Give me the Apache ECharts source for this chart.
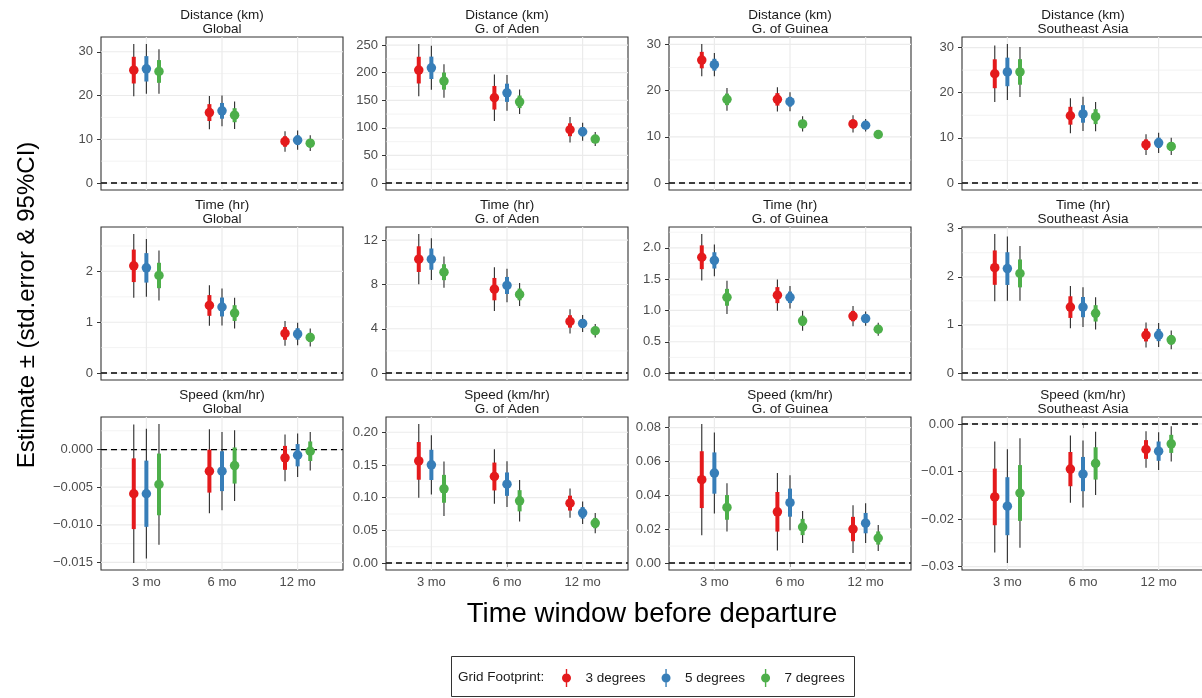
<!DOCTYPE html>
<html>
<head>
<meta charset="utf-8">
<script src="https://cdn.jsdelivr.net/npm/echarts@6/dist/echarts.min.js"></script>
<style>
html, body { margin: 0; padding: 0; background: #fff; }
#chart { width: 1202px; height: 698px; }
</style>
</head>
<body>
<div id="chart"></div>
<script>
var windows = ['3 mo', '6 mo', '12 mo'];
var footprints = ['3 degrees', '5 degrees', '7 degrees'];
var regions = ['Global', 'G. of Aden', 'G. of Guinea', 'Southeast Asia'];
var metrics = ['Distance (km)', 'Time (hr)', 'Speed (km/hr)'];

// estimate and std.error, one row per footprint (3, 5, 7 deg), one column per window
var distGlobalEst = [[25.8, 16.1, 9.5], [26.1, 16.5, 9.8], [25.5, 15.5, 9.1]];
var distGlobalSe  = [[3.05, 1.93, 1.2], [2.9, 1.8, 1.12], [2.6, 1.6, 0.92]];
var distAdenEst   = [[204.7, 154.6, 96.6], [208.9, 163.6, 93.0], [184.8, 147.3, 79.7]];
var distAdenSe    = [[24.2, 21.4, 11.7], [20.3, 16.5, 8.3], [15.5, 11.4, 6.5]];
var distGuineaEst = [[26.6, 18.1, 12.8], [25.6, 17.6, 12.5], [18.1, 12.8, 10.5]];
var distGuineaSe  = [[1.78, 1.35, 0.94], [1.28, 1.05, 0.68], [1.25, 0.85, 0.35]];
var distSeaEst    = [[24.2, 14.9, 8.5], [24.6, 15.3, 8.9], [24.6, 14.7, 8.1]];
var distSeaSe     = [[3.2, 1.98, 1.17], [3.16, 1.94, 1.15], [2.83, 1.65, 0.97]];

var timeGlobalEst = [[2.11, 1.33, 0.78], [2.07, 1.30, 0.77], [1.92, 1.18, 0.70]];
var timeGlobalSe  = [[0.32, 0.204, 0.125], [0.29, 0.186, 0.113], [0.25, 0.155, 0.09]];
var timeAdenEst   = [[10.29, 7.58, 4.66], [10.29, 7.91, 4.48], [9.11, 7.10, 3.82]];
var timeAdenSe    = [[1.16, 1.01, 0.56], [0.96, 0.77, 0.39], [0.72, 0.53, 0.315]];
var timeGuineaEst = [[1.85, 1.245, 0.91], [1.80, 1.21, 0.87], [1.21, 0.835, 0.70]];
var timeGuineaSe  = [[0.19, 0.128, 0.083], [0.13, 0.092, 0.058], [0.135, 0.082, 0.053]];
var timeSeaEst    = [[2.19, 1.37, 0.79], [2.17, 1.37, 0.79], [2.07, 1.24, 0.69]];
var timeSeaSe     = [[0.357, 0.225, 0.133], [0.34, 0.21, 0.127], [0.29, 0.17, 0.1]];

var speedGlobalEst = [[-0.00587, -0.00287, -0.0011], [-0.00587, -0.00287, -0.00075], [-0.00463, -0.00212, -0.00022]];
var speedGlobalSe  = [[0.0047, 0.00285, 0.00159], [0.0044, 0.00265, 0.00148], [0.0041, 0.0024, 0.0013]];
var speedAdenEst   = [[0.1562, 0.1323, 0.0916], [0.1501, 0.1206, 0.0768], [0.1135, 0.0952, 0.0611]];
var speedAdenSe    = [[0.0288, 0.0213, 0.0114], [0.0231, 0.0179, 0.0088], [0.0213, 0.0162, 0.0079]];
var speedGuineaEst = [[0.0493, 0.0303, 0.0201], [0.0532, 0.0357, 0.0236], [0.0329, 0.0213, 0.0148]];
var speedGuineaSe  = [[0.0168, 0.0117, 0.0072], [0.0122, 0.0083, 0.006], [0.0073, 0.0048, 0.0039]];
var speedSeaEst    = [[-0.01535, -0.0095, -0.00537], [-0.0173, -0.01054, -0.00572], [-0.01452, -0.0083, -0.00419]];
var speedSeaSe     = [[0.00595, 0.0036, 0.00197], [0.0061, 0.0036, 0.00203], [0.00587, 0.0034, 0.0019]];

// y tick labels per panel
var distGlobalTicks = ['0', '10', '20', '30'];
var distAdenTicks = ['0', '50', '100', '150', '200', '250'];
var distGuineaTicks = ['0', '10', '20', '30'];
var distSeaTicks = ['0', '10', '20', '30'];
var timeGlobalTicks = ['0', '1', '2'];
var timeAdenTicks = ['0', '4', '8', '12'];
var timeGuineaTicks = ['0.0', '0.5', '1.0', '1.5', '2.0'];
var timeSeaTicks = ['0', '1', '2', '3'];
var speedGlobalTicks = ['\u22120.015', '\u22120.010', '\u22120.005', '0.000'];
var speedAdenTicks = ['0.00', '0.05', '0.10', '0.15', '0.20'];
var speedGuineaTicks = ['0.00', '0.02', '0.04', '0.06', '0.08'];
var speedSeaTicks = ['\u22120.03', '\u22120.02', '\u22120.01', '0.00'];

var panelData = [
  [distGlobalEst, distGlobalSe, distGlobalTicks],
  [distAdenEst, distAdenSe, distAdenTicks],
  [distGuineaEst, distGuineaSe, distGuineaTicks],
  [distSeaEst, distSeaSe, distSeaTicks],
  [timeGlobalEst, timeGlobalSe, timeGlobalTicks],
  [timeAdenEst, timeAdenSe, timeAdenTicks],
  [timeGuineaEst, timeGuineaSe, timeGuineaTicks],
  [timeSeaEst, timeSeaSe, timeSeaTicks],
  [speedGlobalEst, speedGlobalSe, speedGlobalTicks],
  [speedAdenEst, speedAdenSe, speedAdenTicks],
  [speedGuineaEst, speedGuineaSe, speedGuineaTicks],
  [speedSeaEst, speedSeaSe, speedSeaTicks]
];

var colors = ['#E41A1C', '#377EB8', '#4DAF4A'];
var dodge = [-1 / 6, 0, 1 / 6];
var font = 'Liberation Sans, Arial, Helvetica, sans-serif';

// panel layout
var colLeft = [101, 386, 669, 962];
var rowTop = [37, 227, 417];
var panelW = 242, panelH = 153;
var xMin = 0.4, xMax = 3.6;

function parseTick(s) { return parseFloat(s.replace('\u2212', '-')); }

var chart = echarts.init(document.getElementById('chart'));

var grids = [], xAxes = [], yAxes = [], series = [], graphics = [];

panelData.forEach(function (pd, i) {
  var est = pd[0], se = pd[1], tickLabels = pd[2];
  var row = Math.floor(i / 4), col = i % 4;
  var tickVals = tickLabels.map(parseTick);

  // y range like ggplot: data + zero line, expanded 5%
  var lo = 0, hi = 0;
  est.forEach(function (r, g) {
    r.forEach(function (e, k) {
      lo = Math.min(lo, e - 1.96 * se[g][k]);
      hi = Math.max(hi, e + 1.96 * se[g][k]);
    });
  });
  var pad = (hi - lo) * 0.05;
  var yMin = lo - pad, yMax = hi + pad;

  // minor breaks halfway between majors
  var step = tickVals[1] - tickVals[0];
  var minors = [];
  for (var t = 0; t <= tickVals.length; t++) {
    var m = tickVals[0] - step / 2 + t * step;
    if (m > yMin && m < yMax) minors.push(m);
  }

  grids.push({
    left: colLeft[col], top: rowTop[row], width: panelW, height: panelH,
    show: true, borderColor: '#333333', borderWidth: 1.1,
    backgroundColor: 'rgba(0,0,0,0)', containLabel: false, outerBoundsMode: 'none'
  });

  xAxes.push({
    type: 'value', gridIndex: i, min: xMin, max: xMax,
    axisLine: { show: false },
    splitLine: { show: false },
    axisTick: { show: row === 2, customValues: [1, 2, 3], length: 4, lineStyle: { color: '#333333', width: 1 } },
    axisLabel: {
      show: row === 2, customValues: [1, 2, 3], margin: 6,
      color: '#4d4d4d', fontSize: 13, fontFamily: font,
      formatter: function (v) { return windows[Math.round(v) - 1]; }
    }
  });

  yAxes.push({
    type: 'value', gridIndex: i, min: yMin, max: yMax,
    axisLine: { show: false },
    splitLine: { show: false },
    axisTick: { show: true, customValues: tickVals, length: 4, lineStyle: { color: '#333333', width: 1 } },
    axisLabel: {
      customValues: tickVals, margin: 8,
      color: '#4d4d4d', fontSize: 13, fontFamily: font,
      formatter: function (v) {
        for (var j = 0; j < tickVals.length; j++) {
          if (Math.abs(tickVals[j] - v) < step * 1e-6) return tickLabels[j];
        }
        return '';
      }
    }
  });

  // background grid + dashed zero line
  var gl = [];
  minors.forEach(function (m) { gl.push([0, m]); });
  tickVals.forEach(function (v) { gl.push([1, v]); });
  [1, 2, 3].forEach(function (x) { gl.push([2, x]); });
  gl.push([3, 0]);
  series.push({
    type: 'custom', xAxisIndex: i, yAxisIndex: i, silent: true, z: 1, clip: true,
    data: gl,
    renderItem: function (params, api) {
      var kind = api.value(0), v = api.value(1), p1, p2;
      if (kind === 2) {
        p1 = api.coord([v, yMin]); p2 = api.coord([v, yMax]);
      } else {
        p1 = api.coord([xMin, v]); p2 = api.coord([xMax, v]);
      }
      var style = { stroke: '#ebebeb', lineWidth: kind === 0 ? 0.6 : 1.2 };
      if (kind === 3) style = { stroke: '#000000', lineWidth: 1.4, lineDash: [6, 4] };
      return { type: 'line', shape: { x1: p1[0], y1: p1[1], x2: p2[0], y2: p2[1] }, style: style };
    }
  });

  footprints.forEach(function (name, g) {
    var pts = windows.map(function (w, k) { return [k + 1 + dodge[g], est[g][k], se[g][k]]; });
    series.push({
      type: 'custom', name: name, xAxisIndex: i, yAxisIndex: i, silent: true, z: 2,
      itemStyle: { color: colors[g] },
      data: pts,
      renderItem: function (params, api) {
        var x = api.value(0), e = api.value(1), s = api.value(2);
        var c1 = api.coord([x, e - 1.96 * s]), c2 = api.coord([x, e + 1.96 * s]);
        var s1 = api.coord([x, e - s]), s2 = api.coord([x, e + s]);
        return {
          type: 'group',
          children: [
            { type: 'line', shape: { x1: c1[0], y1: c1[1], x2: c2[0], y2: c2[1] }, style: { stroke: '#2b2b2b', lineWidth: 1.1 } },
            { type: 'line', shape: { x1: s1[0], y1: s1[1], x2: s2[0], y2: s2[1] }, style: { stroke: colors[g], lineWidth: 4 } }
          ]
        };
      }
    });
    series.push({
      type: 'scatter', name: name, xAxisIndex: i, yAxisIndex: i, silent: true, z: 3,
      symbol: 'circle', symbolSize: 9.5,
      itemStyle: { color: colors[g], opacity: 1 },
      data: pts.map(function (p) { return [p[0], p[1]]; })
    });
  });

  // strip text
  var cx = colLeft[col] + panelW / 2;
  graphics.push({ type: 'text', x: cx, y: rowTop[row] - 21.3, style: { text: metrics[row], textAlign: 'center', textVerticalAlign: 'middle', fontSize: 13.5, fontFamily: font, fill: '#1a1a1a' } });
  graphics.push({ type: 'text', x: cx, y: rowTop[row] - 7.7, style: { text: regions[col], textAlign: 'center', textVerticalAlign: 'middle', fontSize: 13.5, fontFamily: font, fill: '#1a1a1a' } });
});

// axis titles and legend frame
graphics.push({ type: 'text', x: 652, y: 614, style: { text: 'Time window before departure', textAlign: 'center', textVerticalAlign: 'middle', fontSize: 27.5, fontFamily: font, fill: '#000000' } });
graphics.push({ type: 'text', x: 27, y: 305, rotation: Math.PI / 2, style: { text: 'Estimate \u00b1 (std.error & 95%CI)', textAlign: 'center', textVerticalAlign: 'middle', fontSize: 24, fontFamily: font, fill: '#000000' } });
graphics.push({ type: 'rect', shape: { x: 451.5, y: 656.5, width: 403, height: 40 }, style: { fill: '#ffffff', stroke: '#333333', lineWidth: 1 }, z: -1 });
graphics.push({ type: 'text', x: 458, y: 677, style: { text: 'Grid Footprint:', textAlign: 'left', textVerticalAlign: 'middle', fontSize: 13.5, fontFamily: font, fill: '#1a1a1a' } });

var keyIcon = 'path://M9.3,1h1.4v5h-1.4z M9.3,14h1.4v5h-1.4z M10,5.5a4.5,4.5 0 1,1 0,9a4.5,4.5 0 1,1 0,-9z';

var option = {
  animation: false,
  backgroundColor: '#ffffff',
  textStyle: { fontFamily: font },
  grid: grids,
  xAxis: xAxes,
  yAxis: yAxes,
  legend: {
    left: 557, top: 664, orient: 'horizontal', padding: 5,
    selectedMode: false,
    itemWidth: 20, itemHeight: 18, itemGap: 16,
    icon: keyIcon,
    textStyle: { fontSize: 13.5, color: '#1a1a1a', fontFamily: font, padding: [0, 0, 0, 4] },
    data: footprints.map(function (f, g) { return { name: f, itemStyle: { color: colors[g] } }; })
  },
  graphic: graphics,
  series: series
};

chart.setOption(option);
</script>
</body>
</html>
